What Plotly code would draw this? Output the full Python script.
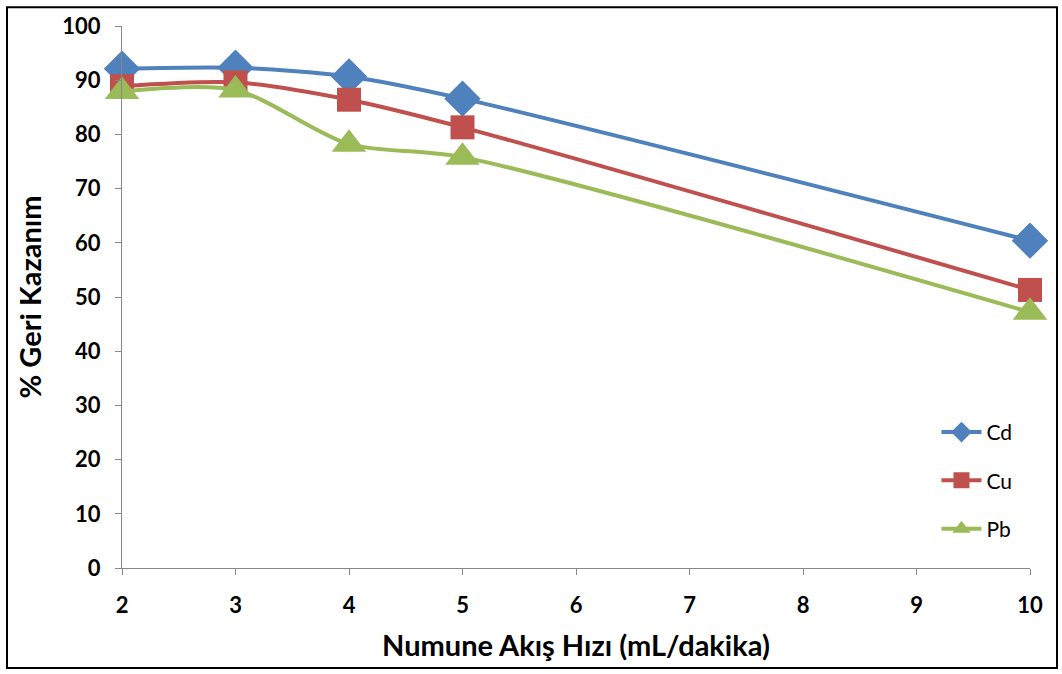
import plotly.graph_objects as go

flow = [2, 3, 4, 5, 10]
cd = [92.1, 92.3, 90.7, 86.6, 60.4]
cu = [88.9, 89.6, 86.4, 81.3, 51.3]
pb = [87.9, 88.2, 78.2, 75.8, 47.2]

series = [
    ("Cd", cd, "#4F81BD", "diamond", 28),
    ("Cu", cu, "#C0504D", "square", 24),
    ("Pb", pb, "#9BBB59", "triangle-up", 30),
]

fig = go.Figure()
for name, vals, col, sym, sz in series:
    fig.add_trace(go.Scatter(
        x=flow, y=vals, name=name, mode="lines+markers", legendgroup=name,
        cliponaxis=False,
        line=dict(color=col, width=4, shape="spline", smoothing=0.8),
        marker=dict(color=col, symbol=sym, size=sz),
    ))

font_family = "Lato, 'Open Sans', sans-serif"
fig.update_layout(
    width=1062, height=674,
    margin=dict(l=122, r=32, t=21, b=106),
    paper_bgcolor="white", plot_bgcolor="white",
    font=dict(family=font_family, color="black"),
    showlegend=True,
    legend=dict(x=0.897, y=0.288, xanchor="left", yanchor="top",
                font=dict(size=21, family=font_family),
                tracegroupgap=18, bgcolor="rgba(0,0,0,0)",
                itemwidth=40),
    xaxis=dict(range=[2, 10], tickmode="array", tickvals=list(range(2, 11)),
               showgrid=False, showline=True, linecolor="#888", linewidth=1,
               ticks="outside", ticklen=6, tickcolor="#888",
               ticklabelstandoff=12,
               tickfont=dict(size=22, family=font_family, weight="bold"),
               zeroline=False,
               title=dict(text="<b>Numune Akış Hızı (mL/dakika)</b>",
                          font=dict(size=29, family=font_family), standoff=18)),
    yaxis=dict(range=[0, 100], tickmode="array", tickvals=list(range(0, 101, 10)),
               showgrid=False, showline=True, linecolor="#888", linewidth=1,
               ticks="outside", ticklen=6, tickcolor="#888",
               ticklabelstandoff=10,
               tickfont=dict(size=22, family=font_family, weight="bold"),
               zeroline=False,
               title=dict(text="<b>% Geri Kazanım</b>",
                          font=dict(size=29, family=font_family), standoff=12)),
)

fig.add_shape(type="rect", xref="paper", yref="paper",
              x0=(7 - 122) / 908, x1=(1057 - 122) / 908,
              y0=(568 - 669) / 547, y1=(568 - 2) / 547,
              line=dict(color="black", width=2), fillcolor="rgba(0,0,0,0)",
              layer="below")

fig.write_html("out.html")
